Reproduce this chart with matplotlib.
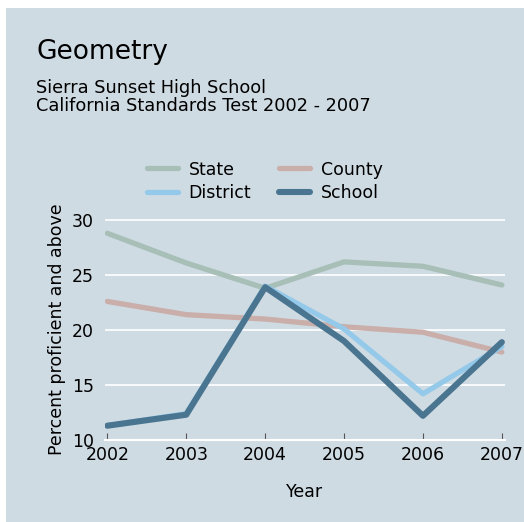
import matplotlib.pyplot as plt
from matplotlib.patches import Rectangle

years = [2002, 2003, 2004, 2005, 2006, 2007]
state = [28.8, 26.1, 23.8, 26.2, 25.8, 24.1]
county = [22.6, 21.4, 21.0, 20.3, 19.8, 18.0]
district = [11.3, 12.4, 24.0, 20.1, 14.2, 18.5]
school = [11.3, 12.3, 23.9, 19.0, 12.2, 18.9]

bg = '#cfdbe3'
fig = plt.figure(figsize=(5.24, 5.22), dpi=100, facecolor='white')
fig.patches.append(Rectangle((6 / 524, 0), 1, (522 - 8) / 522, transform=fig.transFigure,
                             facecolor=bg, edgecolor='none', zorder=-10))

ax = fig.add_axes([105 / 524, 82 / 522, 400 / 524, 221 / 522])
ax.set_facecolor('none')

ax.plot(years, state, color='#a7bfb7', lw=3.8, label='State', solid_capstyle='round')
ax.plot(years, county, color='#c9aeaa', lw=3.8, label='County', solid_capstyle='round')
ax.plot(years, district, color='#94c9e9', lw=3.8, label='District', solid_capstyle='round')
ax.plot(years, school, color='#4a7590', lw=4.4, label='School', solid_capstyle='round')

ax.set_xlim(2001.97, 2007.04)
ax.set_ylim(10, 30.1)
ax.set_yticks([10, 15, 20, 25, 30])
ax.set_xticks(years)
ax.grid(axis='y', color='white', lw=1.2)
ax.set_axisbelow(True)
for s in ['top', 'right', 'left']:
    ax.spines[s].set_visible(False)
ax.spines['bottom'].set_color('white')
ax.spines['bottom'].set_linewidth(1.5)
ax.tick_params(axis='x', direction='in', length=5, color='#555555', labelsize=12.5, pad=4)
ax.tick_params(axis='y', length=0, labelsize=12.5, pad=8)

ax.set_xlabel('Year', fontsize=12.5, labelpad=14)
ax.set_ylabel('Percent proficient and above', fontsize=12.5, labelpad=4)

handles, labels = ax.get_legend_handles_labels()
order = [0, 2, 1, 3]
fig.legend([handles[i] for i in order], [labels[i] for i in order],
           loc='center', bbox_to_anchor=(0.505, 0.653), ncol=2, frameon=False,
           fontsize=12.5, handlelength=1.8, handletextpad=0.6, columnspacing=1.6,
           labelspacing=0.3)

fig.text(36 / 524, 1 - 52 / 522, 'Geometry', fontsize=19, va='center')
fig.text(36 / 524, 1 - 88 / 522, 'Sierra Sunset High School', fontsize=12.8, va='center')
fig.text(36 / 524, 1 - 106 / 522, 'California Standards Test 2002 - 2007', fontsize=12.8, va='center')

plt.savefig('out.png', dpi=100, facecolor='white')
